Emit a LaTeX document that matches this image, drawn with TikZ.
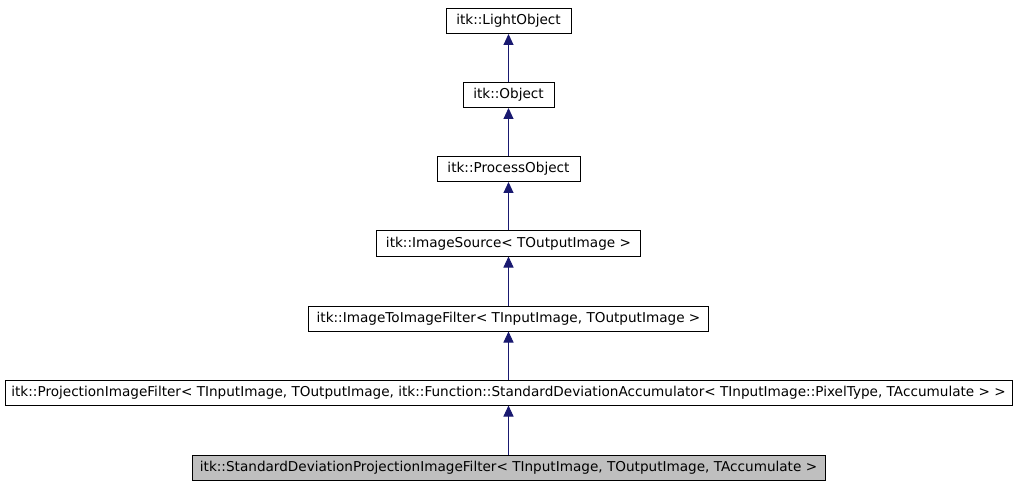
\documentclass[tikz,border=0pt]{standalone}
\usepackage{fontspec}
\setmainfont{DejaVu Sans}
\usetikzlibrary{arrows.meta}
\definecolor{edgeblue}{HTML}{191970}
\definecolor{selfgray}{HTML}{BFBFBF}
\tikzset{
  classbox/.style={draw, rectangle, line width=1pt, fill=white, minimum height=25pt, inner xsep=6pt, font=\fontsize{13.6}{16}\selectfont},
  inherit/.style={draw=edgeblue, line width=1pt, -{Triangle[length=11pt, width=10pt]}, fill=edgeblue}
}
\begin{document}
\begin{tikzpicture}[x=1pt, y=1pt]
    \useasboundingbox (0,0) rectangle (1016,485);
    % Class hierarchy
    \node[classbox, minimum width=125pt] (lightobj) at (508.5,464) {itk::LightObject};
    \node[classbox, minimum width=91pt] (object) at (508.5,390) {itk::Object};
    \node[classbox, minimum width=143pt] (process) at (508.5,316) {itk::ProcessObject};
    \node[classbox, minimum width=264pt] (source) at (508.5,241.5) {itk::ImageSource< TOutputImage >};
    \node[classbox, minimum width=400pt] (imgfilter) at (508.5,166.5) {itk::ImageToImageFilter< TInputImage, TOutputImage >};
    \node[classbox, minimum width=1007pt] (projection) at (508.5,92.5) {itk::ProjectionImageFilter< TInputImage, TOutputImage, itk::Function::StandardDeviationAccumulator< TInputImage::PixelType, TAccumulate > >};
    \node[classbox, fill=selfgray, minimum width=633pt] (stddev) at (508.5,17.5) {itk::StandardDeviationProjectionImageFilter< TInputImage, TOutputImage, TAccumulate >};
    
    % Inheritance arrows
    \draw[inherit] (object.north) -- (lightobj.south);
    \draw[inherit] (process.north) -- (object.south);
    \draw[inherit] (source.north) -- (process.south);
    \draw[inherit] (imgfilter.north) -- (source.south);
    \draw[inherit] (projection.north) -- (imgfilter.south);
    \draw[inherit] (stddev.north) -- (projection.south);
    
\end{tikzpicture}
\end{document}
